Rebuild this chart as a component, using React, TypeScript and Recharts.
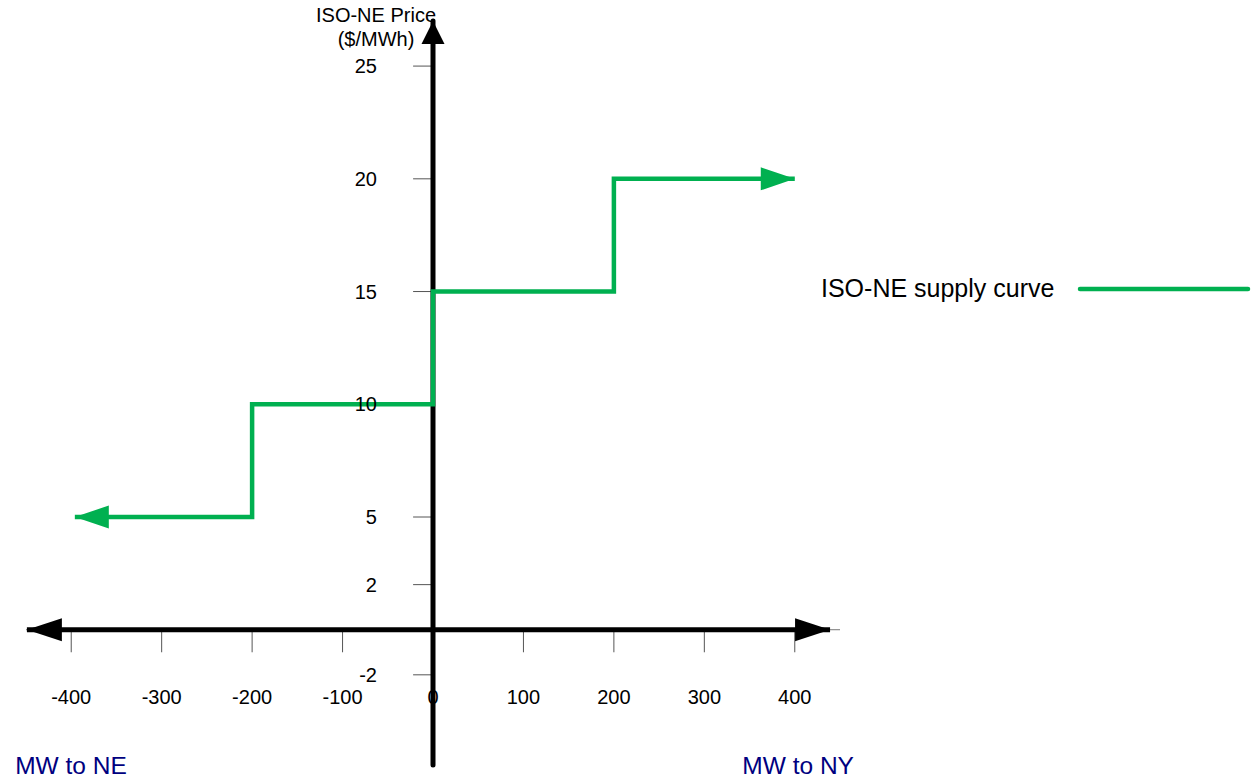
import React from 'react';
import {
  LineChart,
  Line,
  XAxis,
  YAxis,
  ReferenceLine,
  ReferenceDot,
  Legend,
} from 'recharts';

// values
const supplyMW = [-396, -200, -200, 0, 0, 200, 200, 400];
const supplyPrice = [5, 5, 10, 10, 15, 15, 20, 20];
const xTicks = [-400, -300, -200, -100, 0, 100, 200, 300, 400];
const yTicks = [25, 20, 15, 10, 5, 2, -2];
const yTitle = ['ISO-NE Price', '($/MWh)'];
const seriesName = 'ISO-NE supply curve';
const leftTitle = 'MW to NE';
const rightTitle = 'MW to NY';

const data = supplyMW.map((mw, i) => ({ mw, price: supplyPrice[i] }));

const GREEN = '#00b050';
const NAVY = '#000080';
const FONT = 'Arial, "Liberation Sans", sans-serif';

// triangle with its tip at (tx, ty), pointing along (dx, dy)
const arrowHead = (tx: number, ty: number, dx: number, dy: number, len: number, half: number, fill: string) => {
  const bx = tx - dx * len;
  const by = ty - dy * len;
  const px = -dy * half;
  const py = dx * half;
  return <polygon points={`${tx},${ty} ${bx + px},${by + py} ${bx - px},${by - py}`} fill={fill} />;
};

const HorizontalAxis = (p: any) => {
  const dir = Math.sign(p.x2 - p.x1) || 1;
  return (
    <g>
      <line x1={p.x1} y1={p.y1} x2={p.x2} y2={p.y2} stroke="#000" strokeWidth={5} />
      {arrowHead(p.x1, p.y1, -dir, 0, 35, 11.5, '#000')}
      {arrowHead(p.x2, p.y2, dir, 0, 35, 11.5, '#000')}
    </g>
  );
};

const VerticalAxis = (p: any) => {
  const dir = Math.sign(p.y2 - p.y1) || -1;
  return (
    <g>
      <line x1={p.x1} y1={p.y1} x2={p.x2} y2={p.y2} stroke="#000" strokeWidth={5} strokeLinecap="round" />
      {arrowHead(p.x2, p.y2, 0, dir, 23, 11.5, '#000')}
    </g>
  );
};

const textShape = (label: string, anchor: string, size: number, color = '#000') => (p: any) => (
  <text
    x={p.cx}
    y={p.cy}
    textAnchor={anchor}
    dominantBaseline="central"
    fontFamily={FONT}
    fontSize={size}
    fill={color}
  >
    {label}
  </text>
);

const titleShape = (p: any) => (
  <text x={p.cx} y={p.cy} textAnchor="middle" fontFamily={FONT} fontSize={20} fill="#000">
    <tspan x={p.cx} dy={6}>{yTitle[0]}</tspan>
    <tspan x={p.cx} dy={24}>{yTitle[1]}</tspan>
  </text>
);

const SupplyDot = (p: any) => {
  const last = supplyMW.length - 1;
  if (p.index === 0) return <g key="a0">{arrowHead(p.cx, p.cy, -1, 0, 34, 11.5, GREEN)}</g>;
  if (p.index === last) return <g key="a1">{arrowHead(p.cx, p.cy, 1, 0, 34, 11.5, GREEN)}</g>;
  return <g key={`d${p.index}`} />;
};

const LegendContent = () => (
  <div style={{ display: 'flex', alignItems: 'center', fontFamily: FONT, fontSize: 25, color: '#000', whiteSpace: 'nowrap' }}>
    <span>{seriesName}</span>
    <svg width={175} height={10} style={{ marginLeft: 23 }}>
      <line x1={3} y1={5} x2={171} y2={5} stroke={GREEN} strokeWidth={4.5} strokeLinecap="round" />
    </svg>
  </div>
);

export default function App() {
  return (
    <div style={{ position: 'absolute', left: 0, top: 0, width: 1252, height: 777 }}>
      <LineChart
        width={1252}
        height={777}
        data={data}
        margin={{ top: 21, right: 412, left: 26, bottom: 12 }}
      >
        <XAxis dataKey="mw" type="number" domain={[-450, 450]} hide allowDataOverflow />
        <YAxis type="number" domain={[-6, 27]} hide allowDataOverflow />

        {/* tick labels */}
        {xTicks.map((t) => (
          <ReferenceDot key={`xl${t}`} x={t} y={-3} r={0} ifOverflow="visible" shape={textShape(String(t), 'middle', 20)} />
        ))}
        {yTicks.map((t) => (
          <ReferenceDot key={`yl${t}`} x={-62} y={t} r={0} ifOverflow="visible" shape={textShape(String(t), 'end', 20)} />
        ))}
        <ReferenceDot x={-63} y={27.2} r={0} ifOverflow="visible" shape={titleShape} />
        <ReferenceDot x={-462} y={-6} r={0} ifOverflow="visible" shape={textShape(leftTitle, 'start', 24.5, NAVY)} />
        <ReferenceDot x={342} y={-6} r={0} ifOverflow="visible" shape={textShape(rightTitle, 'start', 24.5, NAVY)} />

        {/* tick marks */}
        {xTicks.map((t) => (
          <ReferenceLine key={`xt${t}`} segment={[{ x: t, y: 0 }, { x: t, y: -1 }]} stroke="#555" strokeWidth={1} ifOverflow="visible" />
        ))}
        {yTicks.map((t) => (
          <ReferenceLine key={`yt${t}`} segment={[{ x: -22, y: t }, { x: 0, y: t }]} stroke="#555" strokeWidth={1} ifOverflow="visible" />
        ))}
        <ReferenceLine y={0} stroke="#777" strokeWidth={1} />

        {/* axes with arrows */}
        <ReferenceLine segment={[{ x: -449, y: 0 }, { x: 439, y: 0 }]} ifOverflow="visible" shape={HorizontalAxis} />
        <ReferenceLine segment={[{ x: 0, y: -6 }, { x: 0, y: 27 }]} ifOverflow="visible" shape={VerticalAxis} />

        <Legend
          layout="horizontal"
          verticalAlign="middle"
          align="center"
          content={LegendContent}
          wrapperStyle={{ left: 821, top: 274, width: 431 }}
        />
        <Line
          dataKey="price"
          name={seriesName}
          type="linear"
          stroke={GREEN}
          strokeWidth={4.5}
          strokeLinecap="butt"
          strokeLinejoin="miter"
          dot={SupplyDot}
          activeDot={false}
          isAnimationActive={false}
        />
      </LineChart>
    </div>
  );
}
